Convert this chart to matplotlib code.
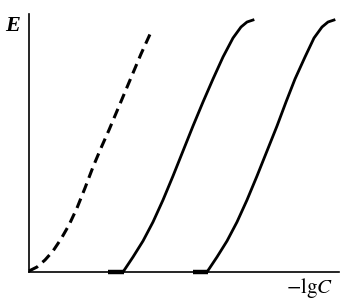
import matplotlib.pyplot as plt

# curves (x: distance along -lgC, y: E), arbitrary units
dash_x = [0, 8, 16, 24, 32, 40, 48, 56, 64, 72, 80, 88, 96, 104, 112, 122]
dash_y = [1, 5, 12, 21, 33, 47, 64, 84, 105, 124, 142, 161, 180, 199, 218, 240]

sol1_x = [94, 104, 114, 124, 134, 144, 154, 164, 174, 184, 194, 204, 212, 218, 224]
sol1_y = [0, 15, 31, 50, 72, 96, 121, 146, 170, 193, 215, 234, 245, 250, 252]

sol2_x = [178, 188, 198, 208, 218, 228, 238, 248, 257, 266, 276, 285, 293, 299, 305]
sol2_y = [0, 15, 31, 50, 72, 96, 121, 146, 170, 193, 215, 234, 245, 250, 252]

flat1_x = [79, 95]
flat2_x = [164, 179]
flat_y = [0.5, 0.5]

W, H = 346, 308
fig = plt.figure(figsize=(W / 100, H / 100), dpi=100)
ax = fig.add_axes([29 / W, (H - 272) / H, (339 - 29) / W, (272 - 14) / H])
ax.set_xlim(0, 310)
ax.set_ylim(0, 258)

ax.plot(dash_x, dash_y, color="black", lw=2.2, dashes=(3.3, 2.0),
        dash_capstyle="butt", clip_on=False)
ax.plot(sol1_x, sol1_y, color="black", lw=2.0, clip_on=False)
ax.plot(sol2_x, sol2_y, color="black", lw=2.0, clip_on=False)
ax.plot(flat1_x, flat_y, color="black", lw=3.2, solid_capstyle="butt", clip_on=False)
ax.plot(flat2_x, flat_y, color="black", lw=3.2, solid_capstyle="butt", clip_on=False)

for s in ["top", "right"]:
    ax.spines[s].set_visible(False)
for s in ["left", "bottom"]:
    ax.spines[s].set_linewidth(1.2)
ax.set_xticks([])
ax.set_yticks([])

plt.rcParams["mathtext.fontset"] = "stix"
fig.text(13 / W, 1 - 26 / H, "E", fontsize=16, family="Liberation Serif",
         style="italic", weight="bold", ha="center", va="center")
fig.text(309 / W, 1 - 288 / H, r"$-\mathrm{lg}C$", fontsize=15,
         ha="center", va="center")

fig.savefig("out.png", dpi=100)
